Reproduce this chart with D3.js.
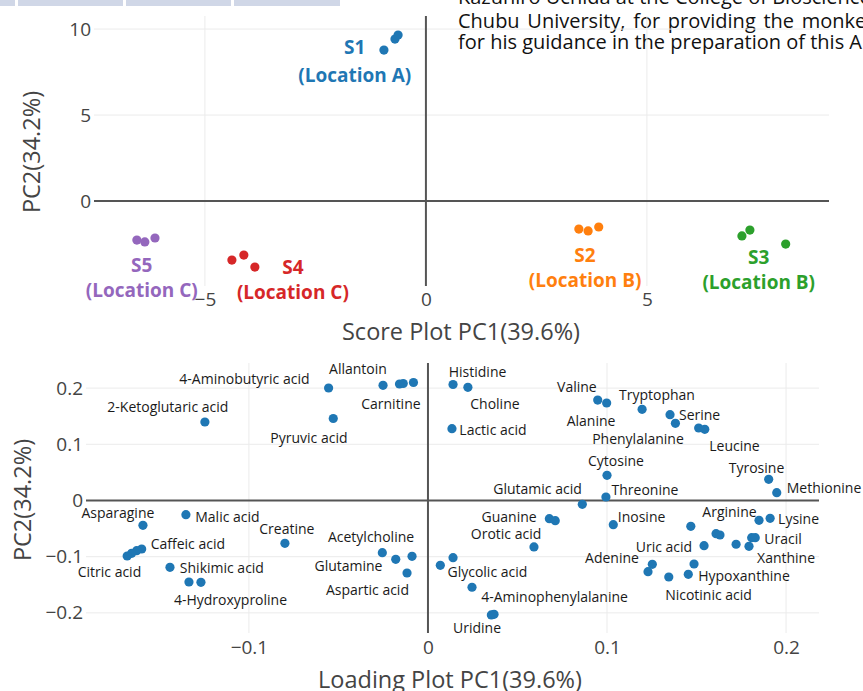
<!DOCTYPE html>
<html><head><meta charset="utf-8">
<script src="https://cdn.jsdelivr.net/npm/d3@7"></script>
<style>body{margin:0;background:#fff} svg{display:block}</style>
</head><body><svg id="c" width="863" height="691"></svg>
<script>
// ---------- Score plot data ----------
const scoreGroups = ["S1", "S2", "S3", "S4", "S5"];
const scoreLocations = ["(Location A)", "(Location B)", "(Location B)", "(Location C)", "(Location C)"];
const s1PC1 = [-0.95, -0.70, -0.63];
const s1PC2 = [8.78, 9.42, 9.65];
const s2PC1 = [3.46, 3.67, 3.91];
const s2PC2 = [-1.63, -1.74, -1.51];
const s3PC1 = [7.15, 7.33, 8.14];
const s3PC2 = [-2.03, -1.69, -2.50];
const s4PC1 = [-4.39, -4.12, -3.87];
const s4PC2 = [-3.43, -3.14, -3.84];
const s5PC1 = [-6.54, -6.36, -6.13];
const s5PC2 = [-2.27, -2.38, -2.15];
// group label anchor (data coords): name line and location line
const groupLabelPC1 = [-1.61, 3.60, 7.53, -3.01, -6.43];
const groupNamePC2 = [8.95, -3.14, -3.26, -3.84, -3.72];
const groupLocPC2 = [7.33, -4.59, -4.71, -5.29, -5.17];
const scoreXTicks = [-5, 0, 5];
const scoreYTicks = [0, 5, 10];

// ---------- Loading plot data ----------
const loadingPC1 = [-0.1246,-0.1592,-0.1352,-0.0799,-0.1599,-0.1627,-0.1655,-0.1680,-0.1441,-0.1335,-0.1268,
  -0.0555,-0.0529,-0.0251,-0.0159,-0.0138,-0.0081,-0.0255,-0.0180,-0.0089,-0.0117,
  0.0140,0.0223,0.0134,0.0069,0.0140,0.0246,0.0354,0.0369,0.0678,0.0711,0.0592,0.0862,
  0.0948,0.0998,0.1196,0.1352,0.1382,0.1512,0.1546,0.1000,0.0994,0.1903,0.1948,
  0.1035,0.1468,0.1609,0.1631,0.1849,0.1911,0.1808,0.1828,0.1721,0.1793,0.1542,
  0.1253,0.1229,0.1486,0.1454,0.1345];
const loadingPC2 = [0.1397,-0.0441,-0.0253,-0.0762,-0.0863,-0.0893,-0.0940,-0.0988,-0.1189,-0.1450,-0.1456,
  0.2002,0.1459,0.2050,0.2073,0.2082,0.2100,-0.0929,-0.1046,-0.0993,-0.1290,
  0.2064,0.2014,0.1278,-0.1153,-0.1018,-0.1544,-0.2037,-0.2025,-0.0324,-0.0359,-0.0827,-0.0068,
  0.1788,0.1735,0.1623,0.1527,0.1374,0.1290,0.1267,0.0448,0.0062,0.0377,0.0139,
  -0.0431,-0.0459,-0.0591,-0.0614,-0.0352,-0.0317,-0.0662,-0.0662,-0.0779,-0.0815,-0.0804,
  -0.1135,-0.1267,-0.1130,-0.1313,-0.1361];
const metaboliteNames = ["4-Aminobutyric acid","Allantoin","2-Ketoglutaric acid","Carnitine","Pyruvic acid",
  "Histidine","Choline","Lactic acid","Valine","Tryptophan","Alanine","Serine","Phenylalanine","Leucine",
  "Cytosine","Tyrosine","Glutamic acid","Threonine","Methionine","Asparagine","Malic acid","Caffeic acid",
  "Citric acid","Shikimic acid","4-Hydroxyproline","Creatine","Acetylcholine","Glutamine","Aspartic acid",
  "Glycolic acid","4-Aminophenylalanine","Uridine","Guanine","Orotic acid","Inosine","Arginine","Lysine",
  "Uracil","Xanthine","Uric acid","Adenine","Hypoxanthine","Nicotinic acid"];
const nameLabelPC1 = [-0.1025,-0.0391,-0.1453,-0.0207,-0.0665,0.0277,0.0374,0.0363,0.0832,0.1279,0.0911,
  0.1517,0.1173,0.1712,0.1050,0.1835,0.0612,0.1212,0.2212,-0.1732,-0.1120,-0.1341,-0.1779,-0.1151,-0.1103,
  -0.0788,-0.0318,-0.0444,-0.0338,0.0332,0.0707,0.0274,0.0453,0.0436,0.1193,0.1684,0.2070,0.1983,0.2000,
  0.1318,0.1028,0.1765,0.1567];
const nameLabelPC2 = [0.2180,0.2358,0.1664,0.1735,0.1130,0.2304,0.1735,0.1272,0.2020,0.1895,0.1432,
  0.1539,0.1112,0.0970,0.0703,0.0596,0.0222,0.0187,0.0240,-0.0222,-0.0276,-0.0774,-0.1272,-0.1201,-0.1753,
  -0.0507,-0.0632,-0.1165,-0.1575,-0.1272,-0.1717,-0.2269,-0.0276,-0.0596,-0.0276,-0.0187,-0.0329,-0.0685,
  -0.1023,-0.0810,-0.1023,-0.1343,-0.1664];
const loadXTicks = [-0.1, 0, 0.1, 0.2];
const loadYTicks = [-0.2, -0.1, 0, 0.1, 0.2];

// ---------- Page text fragments ----------
const headerLines = ["Kazuhiro Uchida at the College of Bioscience and Biotechnology,",
  "Chubu University, for providing the monkey",
  "for his guidance in the preparation of this Article."];
const headerWordSpacing = [0, 2.5, 0];
const headerBoxes = [[0, 15], [18, 123], [126, 231], [234, 340]];

// ---------- Drawing ----------
const svg = d3.select("#c");
const palette = ["#1f77b4", "#ff7f0e", "#2ca02c", "#d62728", "#9467bd"];
const FONT = "'Open Sans', 'Noto Sans', sans-serif";

// header fragments
svg.selectAll("rect.hb").data(headerBoxes).join("rect")
  .attr("x", d => d[0]).attr("y", 0).attr("width", d => d[1] - d[0]).attr("height", 6)
  .attr("fill", "#d0d7e7");
svg.selectAll("text.hl").data(headerLines).join("text")
  .attr("x", 458).attr("y", (d, i) => [4, 27.5, 49][i])
  .attr("font-family", FONT).attr("font-size", 20).attr("fill", "#111")
  .attr("word-spacing", (d, i) => headerWordSpacing[i])
  .text(d => d);

function panel(opts) {
  const g = svg.append("g");
  const x = d3.scaleLinear(opts.xDomain, opts.xRange);
  const y = d3.scaleLinear(opts.yDomain, opts.yRange);
  const [x0, x1] = opts.xRange, [y0, y1] = opts.yRange; // y0 bottom, y1 top
  g.selectAll("line.gx").data(opts.xTicks.filter(t => t !== 0)).join("line")
    .attr("x1", d => x(d)).attr("x2", d => x(d)).attr("y1", y1).attr("y2", y0)
    .attr("stroke", "#ebebeb").attr("stroke-width", 1);
  g.selectAll("line.gy").data(opts.yTicks.filter(t => t !== 0)).join("line")
    .attr("x1", x0).attr("x2", x1).attr("y1", d => y(d)).attr("y2", d => y(d))
    .attr("stroke", "#ebebeb").attr("stroke-width", 1);
  g.append("line").attr("x1", x0).attr("x2", x1).attr("y1", y(0)).attr("y2", y(0))
    .attr("stroke", "#555").attr("stroke-width", 2);
  g.append("line").attr("x1", x(0)).attr("x2", x(0)).attr("y1", y1).attr("y2", y0)
    .attr("stroke", "#555").attr("stroke-width", 2);
  const ax = g.append("g").attr("transform", `translate(0,${y0})`)
    .call(d3.axisBottom(x).tickValues(opts.xTicks).tickSize(0).tickPadding(opts.xPad).tickFormat(opts.fmt));
  const ay = g.append("g").attr("transform", `translate(${x0},0)`)
    .call(d3.axisLeft(y).tickValues(opts.yTicks).tickSize(0).tickPadding(opts.yPad).tickFormat(opts.fmt));
  [ax, ay].forEach(a => {
    a.select(".domain").remove();
    a.selectAll("text").attr("font-family", FONT).attr("font-size", 19).attr("fill", "#444");
  });
  g.append("text").attr("x", opts.xTitle[0]).attr("y", opts.xTitle[1])
    .attr("text-anchor", "middle").attr("dominant-baseline", "central")
    .attr("font-family", FONT).attr("font-size", 23.5).attr("fill", "#444").text(opts.xLabel);
  g.append("text").attr("transform", `translate(${opts.yTitle[0]},${opts.yTitle[1]}) rotate(-90)`)
    .attr("text-anchor", "middle").attr("dominant-baseline", "central")
    .attr("font-family", FONT).attr("font-size", 23.5).attr("fill", "#444").text(opts.yLabel);
  return {g, x, y};
}

// Score plot
const scorePanel = panel({
  xDomain: [-7.51, 9.12], xRange: [94, 829],
  yDomain: [-4.94, 10.76], yRange: [286, 16],
  xTicks: scoreXTicks, yTicks: scoreYTicks, fmt: d3.format("d"),
  xPad: 6, yPad: 3,
  xTitle: [461, 331], yTitle: [31, 152],
  xLabel: "Score Plot PC1(39.6%)", yLabel: "PC2(34.2%)"
});
const scorePC1 = [s1PC1, s2PC1, s3PC1, s4PC1, s5PC1];
const scorePC2 = [s1PC2, s2PC2, s3PC2, s4PC2, s5PC2];
scoreGroups.forEach((grp, gi) => {
  const pts = scorePC1[gi].map((v, i) => [v, scorePC2[gi][i]]);
  scorePanel.g.selectAll(null).data(pts).join("circle")
    .attr("cx", d => scorePanel.x(d[0])).attr("cy", d => scorePanel.y(d[1])).attr("r", 4.6)
    .attr("fill", palette[gi]);
  scorePanel.g.append("text").attr("x", scorePanel.x(groupLabelPC1[gi])).attr("y", scorePanel.y(groupNamePC2[gi]))
    .attr("text-anchor", "middle").attr("dominant-baseline", "central")
    .attr("font-family", FONT).attr("font-weight", "bold").attr("font-size", 19)
    .attr("fill", palette[gi]).text(grp);
  scorePanel.g.append("text").attr("x", scorePanel.x(groupLabelPC1[gi])).attr("y", scorePanel.y(groupLocPC2[gi]))
    .attr("text-anchor", "middle").attr("dominant-baseline", "central")
    .attr("font-family", FONT).attr("font-weight", "bold").attr("font-size", 19)
    .attr("fill", palette[gi]).text(scoreLocations[gi]);
});

// Loading plot
const loadPanel = panel({
  xDomain: [-0.191, 0.2184], xRange: [86, 819],
  yDomain: [-0.2358, 0.2447], yRange: [633, 363],
  xTicks: loadXTicks, yTicks: loadYTicks, fmt: d => d === 0 ? "0" : d3.format(".1f")(d),
  xPad: 8, yPad: 3,
  xTitle: [450, 679], yTitle: [22, 500],
  xLabel: "Loading Plot PC1(39.6%)", yLabel: "PC2(34.2%)"
});
loadPanel.g.selectAll("circle.ld").data(loadingPC1.map((v, i) => [v, loadingPC2[i]])).join("circle")
  .attr("cx", d => loadPanel.x(d[0])).attr("cy", d => loadPanel.y(d[1])).attr("r", 4.6)
  .attr("fill", palette[0]);
loadPanel.g.selectAll("text.nm").data(metaboliteNames).join("text")
  .attr("x", (d, i) => loadPanel.x(nameLabelPC1[i])).attr("y", (d, i) => loadPanel.y(nameLabelPC2[i]))
  .attr("text-anchor", "middle").attr("dominant-baseline", "central")
  .attr("font-family", FONT).attr("font-size", 14).attr("fill", "#1a1a1a")
  .text(d => d);
</script></body></html>
